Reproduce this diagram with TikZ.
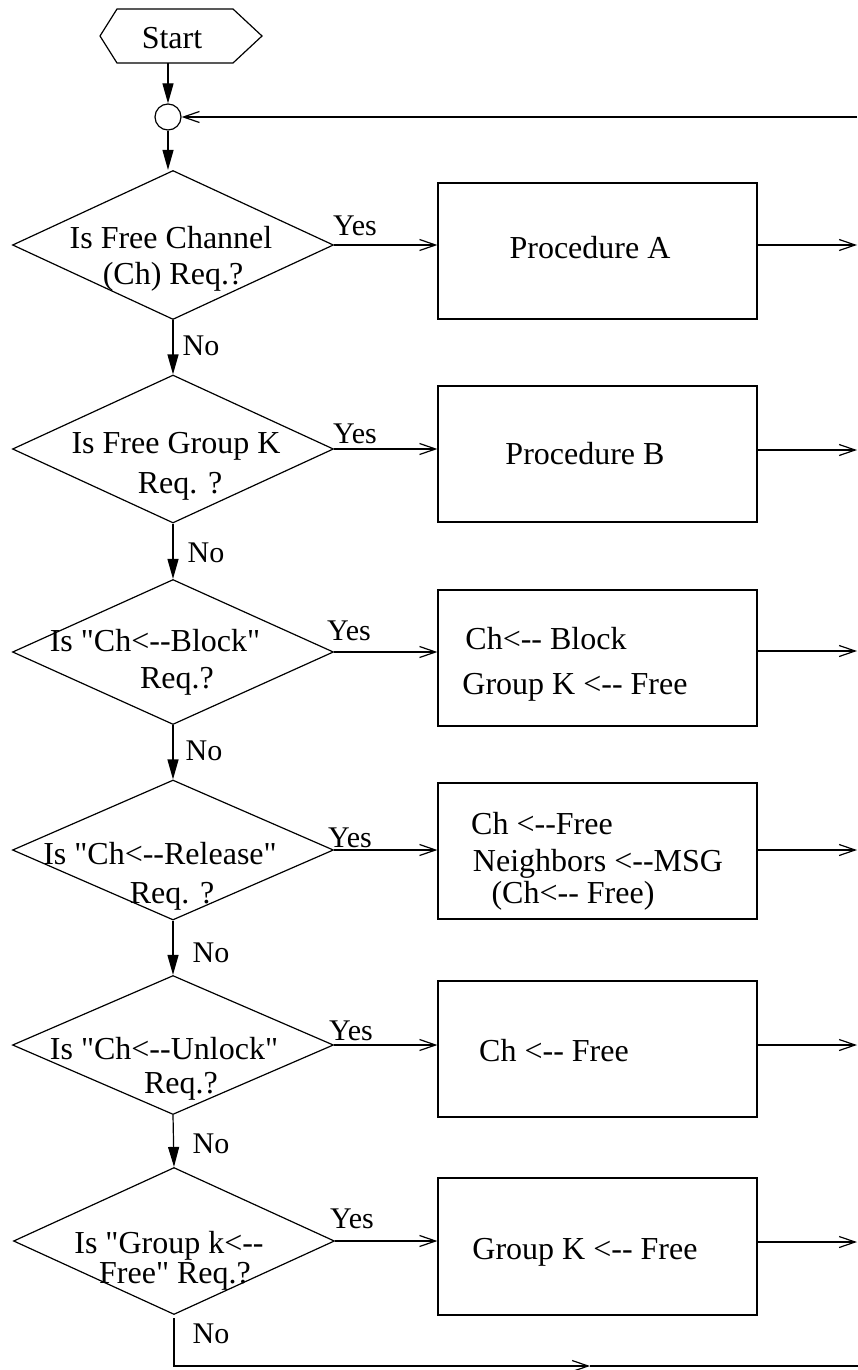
\documentclass[tikz,border=0pt]{standalone}
\usepackage{fontspec}
\setmainfont{Liberation Serif}[Ligatures=TeXOff]
\usetikzlibrary{shapes.geometric,arrows.meta}
\begin{document}
\begin{tikzpicture}[x=1pt,y=-1pt, line width=1.2pt,
  dia/.style={diamond, draw, minimum width=321pt, minimum height=#1, inner sep=0pt},
  box/.style={rectangle, draw, minimum width=319pt, minimum height=#1, inner sep=0pt},
  txt/.style={inner sep=0pt, font=\fontsize{32}{38}\selectfont, text height=22pt, text depth=0pt},
  lbl/.style={inner sep=0pt, font=\fontsize{30}{36}\selectfont, text height=20pt, text depth=0pt},
  fa/.style={-{Triangle[length=20pt,width=11pt]}},
  oa/.style={-{Straight Barb[length=16pt,width=11pt]}}]
\useasboundingbox (0,0) rectangle (858,1370);

% start hexagon
\draw (100,36) -- (117,9) -- (233,9) -- (262,36) -- (233,63) -- (117,63) -- cycle;
\node[txt] (start) at (172,38) {Start};
\coordinate (hexb) at (168,63);

% junction circle
\node[circle, draw, minimum size=26pt, inner sep=0pt] (circ) at (168,117) {};

% decisions
\node[dia=149pt] (d1) at (173,245) {};
\node[dia=148pt] (d2) at (173,449) {};
\node[dia=145pt] (d3) at (173,652) {};
\node[dia=140pt] (d4) at (173,850) {};
\node[dia=139pt] (d5) at (173,1045) {};
\node[dia=147pt] (d6) at (174,1241) {};

% boxes
\node[box=136pt] (bA) at (597.5,251) {};
\node[box=136pt] (bB) at (597.5,454) {};
\node[box=136pt] (bC) at (597.5,658) {};
\node[box=136pt] (bD) at (597.5,851) {};
\node[box=136pt] (bE) at (597.5,1049) {};
\node[box=137pt] (bF) at (597.5,1246.5) {};

% decision texts
\node[txt] (t1a) at (171,237) {Is Free Channel};
\node[txt] (t1b) at (173,273) {(Ch) Req.?};
\node[txt] (t2a) at (176,442) {Is Free Group K};
\node[txt] (t2b) at (180,482) {Req. ?};
\node[txt] (t3a) at (155,640) {Is "Ch<--Block"};
\node[txt] (t3b) at (177,677) {Req.?};
\node[txt] (t4a) at (160,853) {Is "Ch<--Release"};
\node[txt] (t4b) at (172,892) {Req. ?};
\node[txt] (t5a) at (164,1048) {Is "Ch<--Unlock"};
\node[txt] (t5b) at (181,1082) {Req.?};
\node[txt] (t6a) at (169,1242) {Is "Group k<--};
\node[txt] (t6b) at (175,1272) {Free" Req.?};

% box texts
\node[txt] (tA) at (590,247) {Procedure A};
\node[txt] (tB) at (585,453) {Procedure B};
\node[txt] (tC1) at (546,638) {Ch<-- Block};
\node[txt] (tC2) at (575,683) {Group K <-- Free};
\node[txt] (tD1) at (542,823) {Ch <--Free};
\node[txt] (tD2) at (598,860) {Neighbors <--MSG};
\node[txt] (tD3) at (573,892) {(Ch<-- Free)};
\node[txt] (tE) at (554,1050) {Ch <-- Free};
\node[txt] (tF) at (585,1248) {Group K <-- Free};

% Yes / No labels
\node[lbl] (y1) at (355,225) {Yes};
\node[lbl] (y2) at (355,433) {Yes};
\node[lbl] (y3) at (349,630) {Yes};
\node[lbl] (y4) at (350,837) {Yes};
\node[lbl] (y5) at (351,1030) {Yes};
\node[lbl] (y6) at (352,1218) {Yes};
\node[lbl] (n1) at (201,345) {No};
\node[lbl] (n2) at (206,552) {No};
\node[lbl] (n3) at (204,750) {No};
\node[lbl] (n4) at (211,952) {No};
\node[lbl] (n5) at (211,1143) {No};
\node[lbl] (n6) at (211,1333) {No};

% right-edge coordinates
\coordinate (fb) at (857,117);
\coordinate (oA) at (857,245);
\coordinate (oB) at (857,450);
\coordinate (oC) at (857,651);
\coordinate (oD) at (857,850);
\coordinate (oE) at (857,1045);
\coordinate (oF) at (857,1242);
\coordinate (botmid) at (590,1366);
\coordinate (botend) at (858,1366);

% main flow
\draw[fa] (hexb) -- (circ.north);
\draw[fa] (circ.south) -- (circ.south |- d1.north);
\draw[oa] (fb) -- (circ.east);
\draw[fa] (d1.south) -- (d2.north);
\draw[fa] (d2.south) -- (d3.north);
\draw[fa] (d3.south) -- (d4.north);
\draw[fa] (d4.south) -- (d5.north);
\draw[fa] (d5.south) -- (d6.north);
\draw[oa, shorten <=3pt] (d6.south) |- (botmid);
\draw (botmid) -- (botend);

% yes branches
\draw[oa] (d1.east) -- (d1.east -| bA.west);
\draw[oa] (d2.east) -- (d2.east -| bB.west);
\draw[oa] (d3.east) -- (d3.east -| bC.west);
\draw[oa] (d4.east) -- (d4.east -| bD.west);
\draw[oa] (d5.east) -- (d5.east -| bE.west);
\draw[oa] (d6.east) -- (d6.east -| bF.west);

% outputs
\draw[oa] (bA.east |- oA) -- (oA);
\draw[oa] (bB.east |- oB) -- (oB);
\draw[oa] (bC.east |- oC) -- (oC);
\draw[oa] (bD.east |- oD) -- (oD);
\draw[oa] (bE.east |- oE) -- (oE);
\draw[oa] (bF.east |- oF) -- (oF);
\end{tikzpicture}
\end{document}
